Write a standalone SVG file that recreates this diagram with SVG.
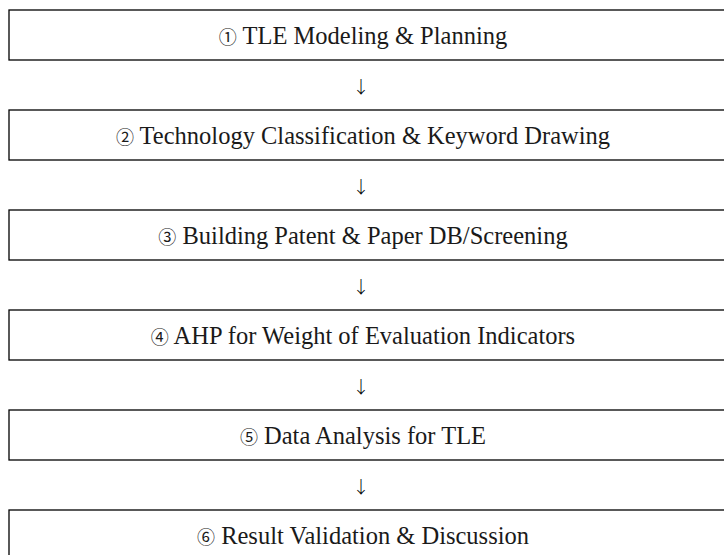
<svg xmlns="http://www.w3.org/2000/svg" width="724" height="555" viewBox="0 0 724 555">
<style>
.box{fill:#fff;stroke:#000;stroke-width:1.3}
.lbl{font-family:"Liberation Serif","Noto Serif",serif;font-size:24.5px;fill:#1a1a1a;text-anchor:middle}
.num{font-family:"Noto Sans CJK KR","DejaVu Sans",sans-serif;font-size:18px}
.arr{font-family:"Noto Sans CJK KR","DejaVu Serif",serif;font-size:17px;font-weight:300;fill:#000;text-anchor:middle}
</style>
<rect width="724" height="555" fill="#fff"/>
<g id="n1"><rect class="box" x="9" y="10" width="730" height="50"/><text class="lbl" x="363" y="44"><tspan class="num">①</tspan> TLE Modeling &amp; Planning</text></g>
<g id="n2"><rect class="box" x="9" y="110" width="730" height="50"/><text class="lbl" x="363" y="144"><tspan class="num">②</tspan> Technology Classification &amp; Keyword Drawing</text></g>
<g id="n3"><rect class="box" x="9" y="210" width="730" height="50"/><text class="lbl" x="363" y="244"><tspan class="num">③</tspan> Building Patent &amp; Paper DB/Screening</text></g>
<g id="n4"><rect class="box" x="9" y="310" width="730" height="50"/><text class="lbl" x="363" y="344"><tspan class="num">④</tspan> AHP for Weight of Evaluation Indicators</text></g>
<g id="n5"><rect class="box" x="9" y="410" width="730" height="50"/><text class="lbl" x="363" y="444"><tspan class="num">⑤</tspan> Data Analysis for TLE</text></g>
<g id="n6"><rect class="box" x="9" y="510" width="730" height="60"/><text class="lbl" x="363" y="544"><tspan class="num">⑥</tspan> Result Validation &amp; Discussion</text></g>
<g id="connectors">
<text class="arr" x="361" y="93">↓</text>
<text class="arr" x="361" y="193">↓</text>
<text class="arr" x="361" y="293">↓</text>
<text class="arr" x="361" y="393">↓</text>
<text class="arr" x="361" y="493">↓</text>
</g>
</svg>
